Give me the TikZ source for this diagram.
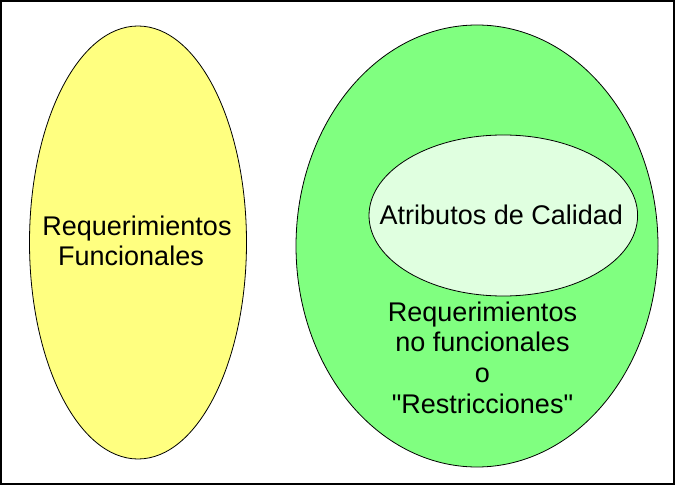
\documentclass[tikz,border=0pt]{standalone}
\usepackage{fontspec}
\setmainfont{Liberation Sans}
\definecolor{yel}{RGB}{255,255,128}
\definecolor{grn}{RGB}{128,255,128}
\definecolor{lgrn}{RGB}{224,255,224}
\begin{document}
\begin{tikzpicture}[x=1pt,y=-1pt,
  blob/.style={draw=black,line width=0.8pt},
  lbl/.style={font=\fontsize{27}{30.7}\selectfont,align=center,inner sep=0pt,text=black}]
\useasboundingbox (0,0) rectangle (677,486);
\draw[line width=1.3pt] (1,1) rectangle (674,484);
\draw[blob,fill=yel] (138,242.5) ellipse [x radius=108.5,y radius=216.5];
\draw[blob,fill=grn] (477,246) ellipse [x radius=181,y radius=221];
\draw[blob,fill=lgrn] (503.3,215.5) ellipse [x radius=134.3,y radius=80.5];
\node[lbl,anchor=base] (rf) at (137,265.7) {Requerimientos\\Funcionales\hspace*{12pt}};
\node[lbl,anchor=base] (ac) at (501.3,225) {Atributos de Calidad};
\node[lbl,anchor=base] (rnf) at (482.5,413.3) {Requerimientos\\no funcionales\\o\\\textquotedbl Restricciones\textquotedbl};
\end{tikzpicture}
\end{document}
